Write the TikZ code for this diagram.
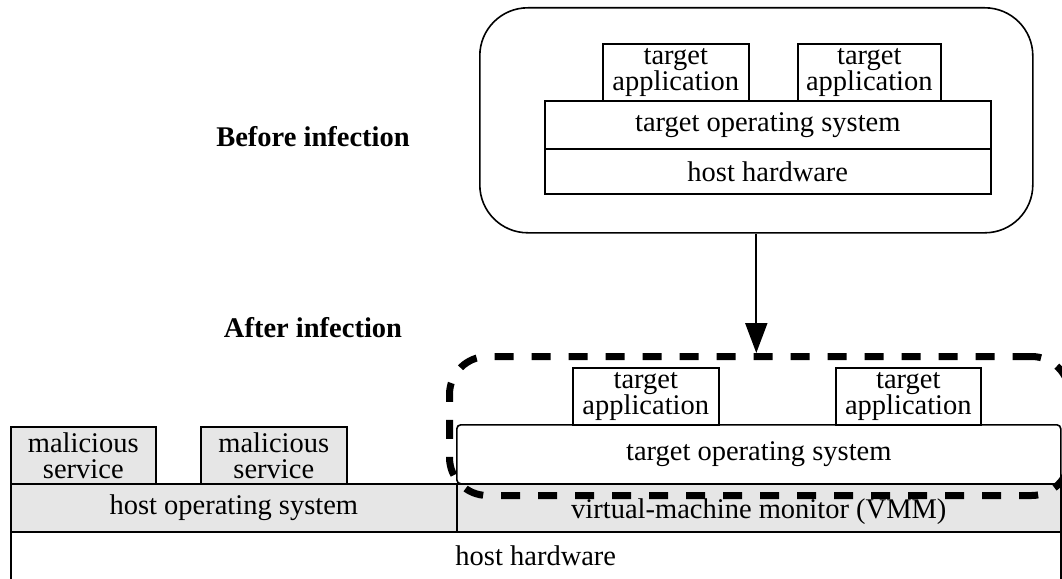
\documentclass[tikz,border=0pt]{standalone}
\usepackage{fontspec}
\setmainfont{Liberation Serif}
\usetikzlibrary{arrows.meta}
\definecolor{boxgray}{HTML}{E6E6E6}
\begin{document}
\begin{tikzpicture}[x=1pt,y=-1pt,
  box/.style={draw, line width=1.6pt, inner sep=0pt, align=center, anchor=north west,
    font=\fontsize{28.5}{26}\selectfont},
  graybox/.style={box, fill=boxgray},
  label/.style={font=\fontsize{28.5}{30}\selectfont\bfseries},
  dashedframe/.style={draw, line width=7pt, dash pattern=on 19pt off 18pt, rounded corners=38pt, inner sep=0pt, anchor=north west}]
\useasboundingbox (0,0) rectangle (1062,578);
\clip (0,0) rectangle (1062,578);

% labels
\node[label] (before) at (313,137) {Before infection};
\node[label] (after) at (313,328) {After infection};

% before infection
\node[box, rounded corners=48pt, minimum width=553pt, minimum height=225pt] (outer) at (479,7) {};
\node[box, minimum width=146pt, minimum height=57pt] (app1) at (602,43) {target\\application};
\node[box, minimum width=143pt, minimum height=57pt] (app2) at (797,43) {target\\application};
\node[box, minimum width=446pt, minimum height=48pt] (tos1) at (544,100) {target operating system};
\node[box, minimum width=446pt, minimum height=45pt] (hhw1) at (544,148) {host hardware};

% after infection
\node[box, minimum width=1050pt, minimum height=48pt] (hhw2) at (10,531) {host hardware};
\node[graybox, minimum width=446pt, minimum height=48pt] (hos) at (10,483) {host operating system};
\node[graybox, minimum width=604pt, minimum height=48pt, text height=28pt, text depth=6pt] (vmm) at (456,483) {virtual-machine monitor (VMM)};
\node[graybox, minimum width=145pt, minimum height=57pt] (mal1) at (10,426) {malicious\\service};
\node[graybox, minimum width=146pt, minimum height=57pt] (mal2) at (200,426) {malicious\\service};
\node[box, rounded corners=4pt, minimum width=604pt, minimum height=59pt] (tos2) at (456,424) {target operating system};
\node[box, minimum width=146pt, minimum height=57pt] (app3) at (572,367) {target\\application};
\node[box, minimum width=145pt, minimum height=57pt] (app4) at (835,367) {target\\application};
\node[dashedframe, minimum width=620pt, minimum height=139pt] (frame) at (446,353) {};

\draw[line width=2pt, -{Triangle[length=30pt,width=22pt]}] (outer.south) -- (outer.south |- frame.north);
\end{tikzpicture}
\end{document}
